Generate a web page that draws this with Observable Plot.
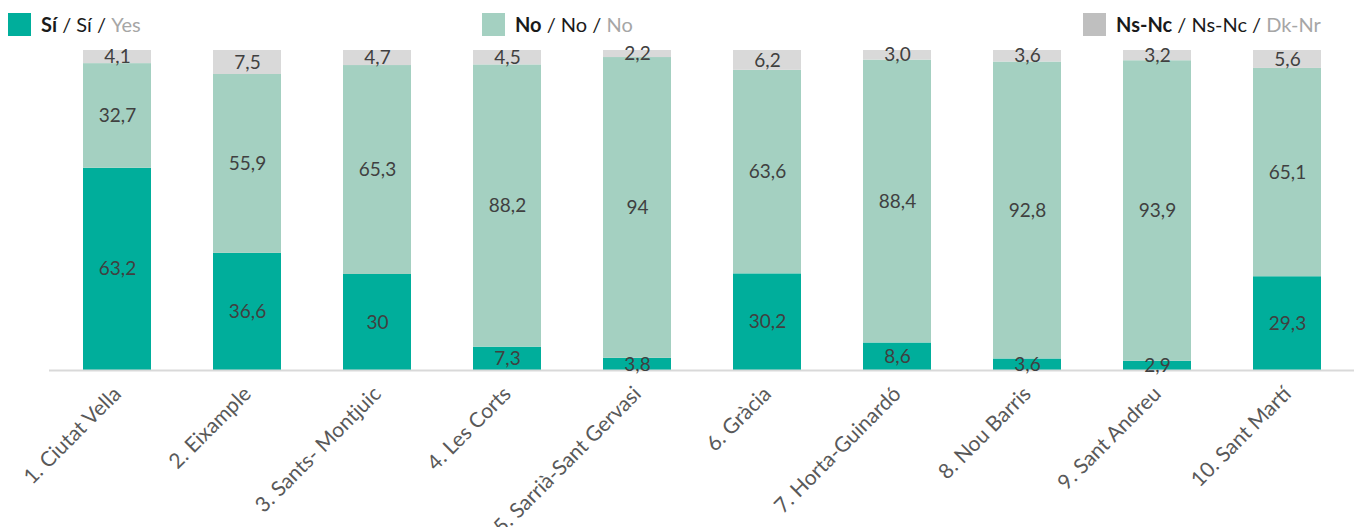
<!DOCTYPE html>
<html>
<head>
<meta charset="utf-8">
<script src="https://cdn.jsdelivr.net/npm/d3@7"></script>
<script src="https://cdn.jsdelivr.net/npm/@observablehq/plot@0.6"></script>
<style>
  body { margin: 0; background: #fff; font-family: Lato, "Open Sans", sans-serif; }
  #legend { position: relative; width: 1372px; height: 38px; }
  .item { position: absolute; top: 12px; display: flex; align-items: center; font-size: 20px; color: #1a1a1a; white-space: nowrap; }
  .sw { width: 23px; height: 23px; margin-right: 10px; }
  .en { color: #a6a6a6; }
  svg { display: block; }
</style>
</head>
<body>
<div id="legend"></div>
<div id="chart"></div>
<script>
const districts = ["1. Ciutat Vella","2. Eixample","3. Sants- Montjuic","4. Les Corts","5. Sarrià-Sant Gervasi","6. Gràcia","7. Horta-Guinardó","8. Nou Barris","9. Sant Andreu","10. Sant Martí"];
const categories = ["Sí","No","Ns-Nc"];
const siValues = [63.2, 36.6, 30, 7.3, 3.8, 30.2, 8.6, 3.6, 2.9, 29.3];
const noValues = [32.7, 55.9, 65.3, 88.2, 94, 63.6, 88.4, 92.8, 93.9, 65.1];
const nsValues = [4.1, 7.5, 4.7, 4.5, 2.2, 6.2, 3.0, 3.6, 3.2, 5.6];
const siLabels = ["63,2","36,6","30","7,3","3,8","30,2","8,6","3,6","2,9","29,3"];
const noLabels = ["32,7","55,9","65,3","88,2","94","63,6","88,4","92,8","93,9","65,1"];
const nsLabels = ["4,1","7,5","4,7","4,5","2,2","6,2","3,0","3,6","3,2","5,6"];
const colors = ["#00ae9b","#a4d0c1","#d9d9d9"];
const legendColors = ["#00ae9b","#a4d0c1","#bfbfbf"];
const legendTexts = [["Sí","Sí","Yes"],["No","No","No"],["Ns-Nc","Ns-Nc","Dk-Nr"]];
const legendX = [8, 482, 1083];

const legend = document.getElementById("legend");
legendTexts.forEach((t, i) => {
  const d = document.createElement("div");
  d.className = "item";
  d.style.left = legendX[i] + "px";
  d.innerHTML = `<span class="sw" style="background:${legendColors[i]}"></span><b>${t[0]}</b>&nbsp;/&nbsp;${t[1]}&nbsp;/&nbsp;<span class="en">${t[2]}</span>`;
  legend.appendChild(d);
});

const seriesVals = [siValues, noValues, nsValues];
const seriesLabels = [siLabels, noLabels, nsLabels];
const rows = [];
categories.forEach((c, ci) => {
  districts.forEach((d, di) => {
    rows.push({district: d, cat: c, value: seriesVals[ci][di], label: seriesLabels[ci][di]});
  });
});

const chart = Plot.plot({
  width: 1372,
  height: 489,
  marginTop: 12,
  marginBottom: 157,
  marginLeft: 49,
  marginRight: 18,
  style: {fontFamily: "Lato, 'Open Sans', sans-serif", background: "#fff"},
  x: {domain: districts, paddingInner: 0.48, paddingOuter: 0.24, label: null},
  y: {domain: [0, 100], axis: null},
  color: {domain: categories, range: colors},
  marks: [
    Plot.barY(rows, {x: "district", y: "value", fill: "cat", order: categories}),
    Plot.ruleY([0], {stroke: "#d9d9d9", strokeWidth: 2}),
    Plot.text(rows, Plot.stackY({x: "district", y: "value", z: "cat", order: categories, text: "label", fill: "#404040", fontSize: 19})),
    Plot.axisX({tickRotate: -45, tickSize: 0, tickPadding: 20, fontSize: 21, fill: "#595959", label: null})
  ]
});
document.getElementById("chart").appendChild(chart);
</script>
</body>
</html>
